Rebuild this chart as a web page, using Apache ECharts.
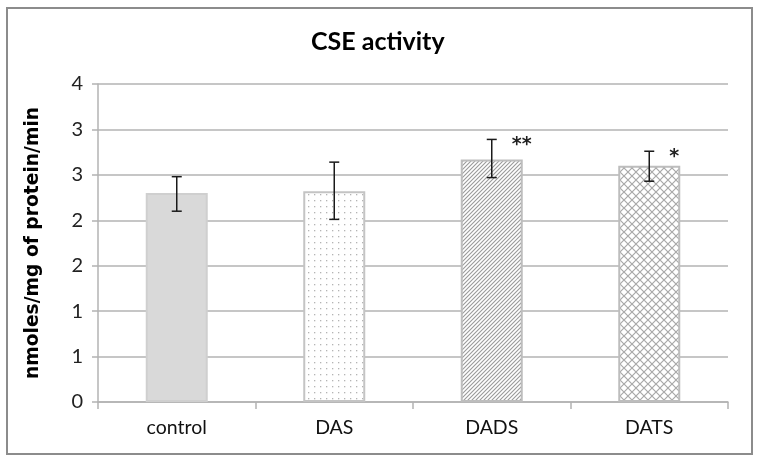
<!DOCTYPE html>
<html>
<head>
<meta charset="utf-8">
<script src="https://cdn.jsdelivr.net/npm/echarts@6/dist/echarts.min.js"></script>
<style>html,body{margin:0;padding:0;background:#fff}#chart{width:758px;height:463px}</style>
</head>
<body>
<div id="chart"></div>
<script>
// ---- data ----
var categories = ['control', 'DAS', 'DADS', 'DATS'];
var means = [2.30, 2.32, 2.67, 2.60];
var errLow = [2.10, 2.01, 2.47, 2.43];
var errHigh = [2.48, 2.64, 2.89, 2.76];
var significance = ['', '', '**', '*'];
var yTickLabels = ['0', '1', '1', '2', '2', '3', '3', '4'];

// ---- pattern tiles ----
function tile(w, h, draw) {
  var c = document.createElement('canvas');
  c.width = w; c.height = h;
  var ctx = c.getContext('2d');
  ctx.fillStyle = '#ffffff';
  ctx.fillRect(0, 0, w, h);
  draw(ctx);
  return c;
}
var dots = tile(6, 6, function (ctx) {
  ctx.fillStyle = '#b4b4b4';
  ctx.fillRect(2, 2, 1.3, 1.3);
});
var diag = tile(4, 4, function (ctx) {
  ctx.strokeStyle = '#9a9a9a';
  ctx.lineWidth = 1.1;
  ctx.beginPath();
  ctx.moveTo(-1, 5); ctx.lineTo(5, -1);
  ctx.moveTo(-1, 1); ctx.lineTo(1, -1);
  ctx.moveTo(3, 5); ctx.lineTo(5, 3);
  ctx.stroke();
});
var cross = tile(8, 8, function (ctx) {
  ctx.strokeStyle = '#a8a8a8';
  ctx.lineWidth = 1.2;
  ctx.beginPath();
  ctx.moveTo(0, 0); ctx.lineTo(8, 8);
  ctx.moveTo(8, 0); ctx.lineTo(0, 8);
  ctx.stroke();
});
var fills = [
  '#d9d9d9',
  { image: dots, repeat: 'repeat' },
  { image: diag, repeat: 'repeat' },
  { image: cross, repeat: 'repeat' }
];
var borders = ['#cfcfcf', '#c4c4c4', '#bdbdbd', '#bdbdbd'];

var barData = means.map(function (v, i) {
  return { value: v, itemStyle: { color: fills[i], borderColor: borders[i], borderWidth: 2 } };
});
var errData = categories.map(function (c, i) { return [i, errLow[i], errHigh[i], significance[i]]; });

var chart = echarts.init(document.getElementById('chart'), null, { renderer: 'canvas' });
var gridColor = '#b3b3b3';
chart.setOption({
  animation: false,
  backgroundColor: '#ffffff',
  title: {
    text: 'CSE activity',
    left: 306,
    top: 24,
    textStyle: { fontFamily: 'Lato', fontWeight: 'bold', fontSize: 25, color: '#000' }
  },
  graphic: [{
    type: 'rect',
    shape: { x: 7, y: 8, width: 745, height: 446 },
    style: { fill: 'none', stroke: '#8c8c8c', lineWidth: 2 },
    silent: true
  }],
  grid: { left: 98, right: 30, top: 84, bottom: 61 },
  xAxis: {
    type: 'category',
    data: categories,
    axisLine: { lineStyle: { color: gridColor, width: 1.5 } },
    axisTick: { show: true, length: 7, lineStyle: { color: gridColor, width: 1.5 } },
    axisLabel: { fontFamily: 'Lato', fontSize: 19.5, color: '#111', margin: 16 }
  },
  yAxis: {
    type: 'value',
    min: 0, max: 3.5, interval: 0.5,
    name: 'nmoles/mg of protein/min',
    nameLocation: 'middle',
    nameGap: 55,
    nameTextStyle: { fontFamily: 'DejaVu Sans', fontWeight: 'bold', fontSize: 18.7, color: '#000' },
    axisLine: { show: true, lineStyle: { color: gridColor, width: 1.5 } },
    axisTick: { show: true, length: 6, lineStyle: { color: gridColor, width: 1.5 } },
    splitLine: { lineStyle: { color: gridColor, width: 1.5 } },
    axisLabel: {
      fontFamily: 'Lato', fontSize: 20, color: '#222', margin: 15,
      formatter: function (v) { return yTickLabels[Math.round(v / 0.5)]; }
    }
  },
  series: [{
    type: 'bar',
    data: barData,
    barWidth: 62
  }, {
    type: 'custom',
    data: errData,
    z: 10,
    renderItem: function (params, api) {
      var x = api.coord([api.value(0), api.value(1)])[0];
      var lo = api.coord([api.value(0), api.value(1)])[1];
      var hi = api.coord([api.value(0), api.value(2)])[1];
      var cap = 5;
      var st = { stroke: '#1a1a1a', lineWidth: 1.5 };
      var children = [
        { type: 'line', shape: { x1: x, y1: hi, x2: x, y2: lo }, style: st },
        { type: 'line', shape: { x1: x - cap, y1: hi, x2: x + cap, y2: hi }, style: st },
        { type: 'line', shape: { x1: x - cap, y1: lo, x2: x + cap, y2: lo }, style: st }
      ];
      var s = significance[params.dataIndex];
      if (s) {
        children.push({
          type: 'text',
          style: {
            text: s, x: x + 20, y: hi + 6,
            fill: '#222', font: 'bold 19px "DejaVu Sans"',
            textAlign: 'left', textVerticalAlign: 'middle'
          }
        });
      }
      return { type: 'group', children: children };
    }
  }]
});
</script>
</body>
</html>
